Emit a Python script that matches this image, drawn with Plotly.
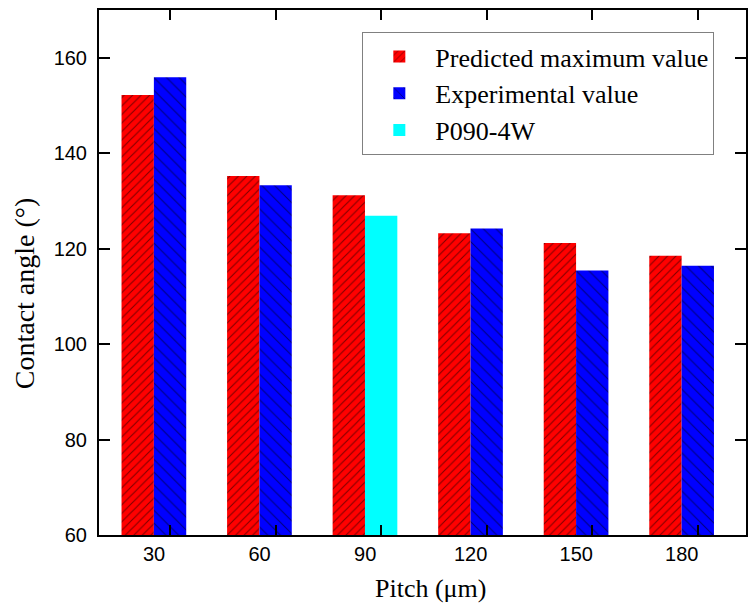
import plotly.graph_objects as go

pitch_labels = ["30", "60", "90", "120", "150", "180"]
predicted = [152.2, 135.2, 131.2, 123.2, 121.2, 118.5]
experimental = [155.9, 133.3, None, 124.2, 115.4, 116.4]
p090_label = ["90"]
p090_value = [126.9]

idx = list(range(len(pitch_labels)))
p090_idx = [pitch_labels.index(l) for l in p090_label]

fig = go.Figure()
fig.add_trace(go.Bar(
    x=idx, y=predicted, name="Predicted maximum value", offsetgroup="a",
    marker=dict(color="#FF0000", line=dict(width=0),
                pattern=dict(shape="/", fgcolor="black", size=6, solidity=0.18)),
))
fig.add_trace(go.Bar(
    x=idx, y=experimental, name="Experimental value", offsetgroup="b",
    marker=dict(color="#0000FF", line=dict(width=0),
                pattern=dict(shape="\\", fgcolor="black", size=9, solidity=0.12)),
))
fig.add_trace(go.Bar(
    x=p090_idx, y=p090_value, name="P090-4W", offsetgroup="b",
    marker=dict(color="#00FFFF", line=dict(width=0)),
))

axis_font = dict(family="Liberation Sans, Arial", size=20, color="black")
serif = "Liberation Serif, Times New Roman"

fig.update_layout(
    width=748, height=605,
    margin=dict(l=99, r=0, t=10, b=70),
    paper_bgcolor="white", plot_bgcolor="white",
    barmode="group", bargap=0.387, bargroupgap=0,
    legend=dict(x=0.407, y=0.958, xanchor="left", yanchor="top",
                bordercolor="#808080", borderwidth=1, bgcolor="white",
                font=dict(family=serif, size=26, color="black"),
                tracegroupgap=0, itemwidth=62),
    xaxis=dict(range=[-0.52, 5.61], tickmode="array",
               tickvals=[i + 0.153 for i in idx], ticktext=pitch_labels,
               ticklabelshift=-16, ticks="inside", ticklen=10, tickwidth=2,
               tickcolor="black", showline=True, linecolor="black", linewidth=2,
               mirror="ticks", showgrid=False, zeroline=False,
               tickfont=axis_font),
    yaxis=dict(range=[60, 170], tickmode="array", tickvals=[60, 80, 100, 120, 140, 160],
               ticks="inside", ticklen=11, tickwidth=2, tickcolor="black",
               showline=True, linecolor="black", linewidth=2, mirror="ticks",
               showgrid=False, zeroline=False, tickfont=axis_font,
               ticklabelstandoff=6),
    annotations=[
        dict(text="Pitch (\u03bcm)", xref="paper", yref="paper", x=0.512, y=-0.101,
             xanchor="center", yanchor="middle", showarrow=False,
             font=dict(family=serif, size=26, color="black")),
        dict(text="Contact angle (\u00b0)", xref="paper", yref="paper", x=-0.114, y=0.461,
             xanchor="center", yanchor="middle", showarrow=False, textangle=-90,
             font=dict(family=serif, size=28, color="black")),
    ],
)

fig.write_html("out.html")
